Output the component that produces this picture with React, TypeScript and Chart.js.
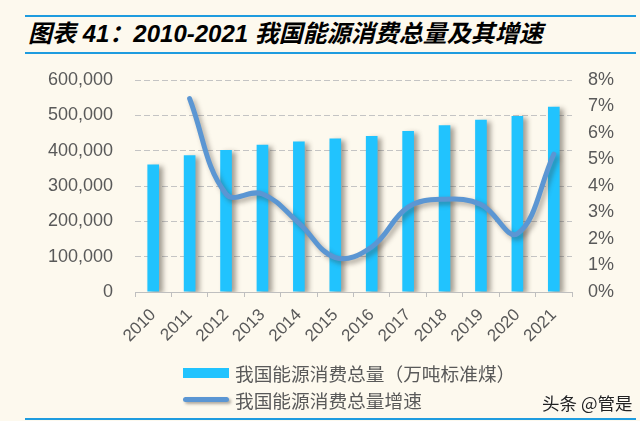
import React, { useEffect, useRef } from "react";
import { Chart, registerables } from "chart.js";

Chart.register(...registerables);

const years = ["2010", "2011", "2012", "2013", "2014", "2015", "2016", "2017", "2018", "2019", "2020", "2021"];
const consumption = [360648, 387043, 402138, 416913, 425806, 434113, 441492, 455827, 471925, 487488, 498314, 524000];
const growth = [null, 7.3, 3.7, 3.7, 2.6, 1.3, 1.7, 3.2, 3.5, 3.3, 2.2, 5.2];
const leftTicksMax = 600000;
const rightTicksMax = 8;

const titleText = "图表 41：2010-2021 我国能源消费总量及其增速";
const barLabel = "我国能源消费总量（万吨标准煤）";
const lineLabel = "我国能源消费总量增速";

const BG = "#FDF9EE";
const BAR = "#21C3FE";
const LINE = "#5B96D3";
const TEXT = "#595959";
const RULE = "#1E9CDF";

const shadowPlugin = {
  id: "shadows",
  beforeDatasetDraw(chart: any, args: any) {
    const ctx = chart.ctx;
    ctx.save();
    if (args.meta.type === "bar") {
      ctx.shadowColor = "rgba(60,50,40,0.45)";
      ctx.shadowBlur = 5;
      ctx.shadowOffsetX = 4;
      ctx.shadowOffsetY = 2;
    } else {
      ctx.shadowColor = "rgba(60,50,40,0.4)";
      ctx.shadowBlur = 5;
      ctx.shadowOffsetX = 3;
      ctx.shadowOffsetY = 3;
    }
  },
  afterDatasetDraw(chart: any) {
    chart.ctx.restore();
  },
};

export default function App() {
  const ref = useRef<HTMLCanvasElement | null>(null);

  useEffect(() => {
    if (!ref.current) return;
    const chart = new Chart(ref.current, {
      type: "bar",
      data: {
        labels: years,
        datasets: [
          {
            type: "line",
            label: lineLabel,
            data: growth as any,
            yAxisID: "y1",
            borderColor: LINE,
            backgroundColor: LINE,
            borderWidth: 5,
            tension: 0.4,
            pointRadius: 0,
            borderCapStyle: "round",
            order: 0,
          } as any,
          {
            type: "bar",
            label: barLabel,
            data: consumption,
            yAxisID: "y",
            backgroundColor: BAR,
            barPercentage: 0.32,
            categoryPercentage: 1,
            order: 1,
          },
        ],
      },
      options: {
        responsive: false,
        animation: false,
        devicePixelRatio: 1,
        layout: { padding: { top: 80, bottom: 0, left: 0, right: 0 } },
        plugins: {
          legend: { display: false },
          tooltip: { enabled: false },
          title: { display: false },
        },
        scales: {
          x: {
            type: "category",
            offset: true,
            grid: {
              offset: true,
              drawOnChartArea: false,
              drawTicks: true,
              tickLength: 5,
              color: "#BFBFBF",
            },
            border: { color: "#BFBFBF", width: 1 },
            ticks: {
              maxRotation: 45,
              minRotation: 45,
              color: TEXT,
              padding: 8,
              font: { family: "'Liberation Sans', Arial, sans-serif", size: 17 },
            },
            afterFit(scale: any) {
              scale.height = 129;
            },
          },
          y: {
            position: "left",
            min: 0,
            max: leftTicksMax,
            ticks: {
              stepSize: 100000,
              color: TEXT,
              padding: 22,
              font: { family: "'Liberation Sans', Arial, sans-serif", size: 18 },
              callback: (v: any) => Number(v).toLocaleString("en-US"),
            },
            grid: {
              drawTicks: false,
              color: "#C4C4C4",
              lineWidth: 1,
            },
            border: { display: false, dash: [6, 3] },
            afterFit(scale: any) {
              scale.width = 135;
            },
          },
          y1: {
            position: "right",
            min: 0,
            max: rightTicksMax,
            ticks: {
              stepSize: 1,
              color: TEXT,
              padding: 16,
              font: { family: "'Liberation Sans', Arial, sans-serif", size: 18 },
              callback: (v: any) => v + "%",
            },
            grid: { drawOnChartArea: false, drawTicks: false },
            border: { display: false },
            afterFit(scale: any) {
              scale.width = 68;
            },
          },
        },
      } as any,
      plugins: [shadowPlugin],
    });
    return () => chart.destroy();
  }, []);

  const rule = (top: number) => (
    <div style={{ position: "absolute", left: 25, width: 611, top, height: 2, background: RULE }} />
  );

  return (
    <div
      style={{
        position: "fixed",
        left: 0,
        top: 0,
        width: 640,
        height: 421,
        background: BG,
        overflow: "hidden",
        fontFamily: "'Noto Sans CJK SC', sans-serif",
      }}
    >
      {rule(15)}
      {rule(52)}
      {rule(418)}
      <div
        style={{
          position: "absolute",
          left: 28,
          top: 19,
          height: 30,
          lineHeight: "30px",
          fontSize: 24,
          fontWeight: 700,
          fontStyle: "italic",
          color: "#000",
          whiteSpace: "nowrap",
          fontFamily: "'Liberation Sans', 'Noto Sans CJK SC', sans-serif",
        }}
      >
        {titleText}
      </div>
      <canvas ref={ref} width={640} height={421} style={{ position: "absolute", left: 0, top: 0 }} />
      <div style={{ position: "absolute", left: 183, top: 359, color: TEXT, fontSize: 18.7 }}>
        <div style={{ display: "flex", alignItems: "center", height: 27 }}>
          <div style={{ width: 46, height: 10, background: BAR, marginRight: 6 }} />
          <span style={{ lineHeight: "27px" }}>{barLabel}</span>
        </div>
        <div style={{ display: "flex", alignItems: "center", height: 27 }}>
          <div
            style={{
              width: 46,
              height: 5,
              borderRadius: 3,
              background: LINE,
              marginRight: 6,
              boxShadow: "2px 2px 3px rgba(60,50,40,0.4)",
            }}
          />
          <span style={{ lineHeight: "27px" }}>{lineLabel}</span>
        </div>
      </div>
      <div
        style={{
          position: "absolute",
          left: 542,
          top: 390,
          fontSize: 17.5,
          color: "#222",
          whiteSpace: "nowrap",
          textShadow: "0 0 2px #fff",
        }}
      >
        头条 @管是
      </div>
    </div>
  );
}
